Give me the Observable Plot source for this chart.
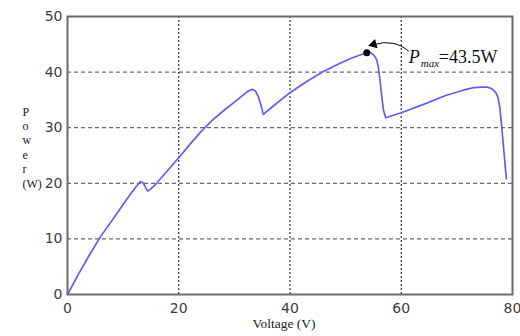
<!DOCTYPE html>
<html><head><meta charset="utf-8">
<script src="https://cdn.jsdelivr.net/npm/d3@7"></script>
<script src="https://cdn.jsdelivr.net/npm/@observablehq/plot@0.6"></script>
<style>body{margin:0;background:#fff} svg{display:block}</style>
</head><body><div id="chart"></div>
<script>
const voltage = [0, 2, 4, 6, 8, 10, 11.5, 12.5, 13.1, 13.6, 14.0, 14.4, 15, 16, 18, 20, 22, 24, 26, 28, 30, 31.5, 32.5, 33.2, 33.8, 34.3, 34.8, 35.2, 37, 40, 43, 46, 49, 51, 53, 53.8, 54.5, 55.1, 55.6, 55.9, 56.2, 56.5, 56.8, 57.2, 60, 64, 68, 71, 73, 74.5, 75.5, 76.3, 77.0, 77.4, 77.7, 78.0, 78.4, 78.9];
const power   = [0, 3.7, 7.2, 10.5, 13.3, 16.2, 18.3, 19.6, 20.3, 20.1, 19.3, 18.6, 19.0, 20.0, 22.3, 24.6, 27.0, 29.3, 31.3, 33.0, 34.6, 35.8, 36.6, 36.9, 36.6, 35.6, 34.0, 32.4, 33.9, 36.3, 38.3, 40.1, 41.6, 42.5, 43.2, 43.5, 43.5, 43.0, 42.2, 40.8, 38.4, 35.6, 33.2, 31.8, 32.7, 34.2, 35.8, 36.7, 37.2, 37.3, 37.3, 37.0, 36.3, 35.4, 33.8, 30.8, 26.4, 20.8];
const xTicks = [0, 20, 40, 60, 80];
const yTicks = [0, 10, 20, 30, 40, 50];
const xGrid = [20, 40, 60];
const yGrid = [10, 20, 30, 40];
const pmaxV = [53.8];
const pmaxP = [43.5];
const pmaxLabel = ["P", "max", "=43.5W"];
// annotation arrow (from label to the peak)
const arrowFrom = [61.3, 43.8];
const arrowTo = [55.3, 45.0];

const pts = voltage.map((v, i) => ({v, p: power[i]}));
const peak = pmaxV.map((v, i) => ({v, p: pmaxP[i]}));
const serif = "Liberation Serif, Times New Roman, serif";
const tickFont = "DejaVu Sans, sans-serif";

const chart = Plot.plot({
  width: 520, height: 336,
  marginLeft: 67, marginRight: 8, marginTop: 16, marginBottom: 42,
  x: {domain: [0, 80]},
  y: {domain: [0, 50]},
  style: {background: "#fff"},
  marks: [
    Plot.ruleY(yGrid, {stroke: "#6a6a6a", strokeDasharray: "4,3", strokeWidth: 1.2}),
    Plot.ruleX(xGrid, {stroke: "#333", strokeDasharray: "2,2", strokeWidth: 1.2}),
    Plot.line(pts, {x: "v", y: "p", stroke: "#5f5ff7", strokeWidth: 1.7}),
    Plot.frame({stroke: "#6b6b6b", strokeWidth: 2}),
    Plot.axisX(xTicks, {tickSize: 0, tickPadding: 9, fontSize: 14, fill: "#3d3d3d", fontFamily: tickFont, label: null}),
    Plot.axisY(yTicks, {tickSize: 0, tickPadding: 5, fontSize: 14, fill: "#3d3d3d", fontFamily: tickFont, label: null}),
    Plot.text(["Voltage (V)"], {frameAnchor: "bottom", dy: 33, dx: -6, fontSize: 13.5, fontFamily: serif, fill: "#222"}),
    Plot.text(["P\no\nw\ne\nr\n(W)"], {frameAnchor: "left", dx: -45, dy: -8.5, lineHeight: 1.2, fontSize: 12, fontFamily: serif, fill: "#222"}),
    Plot.arrow([{x1: arrowFrom[0], y1: arrowFrom[1], x2: arrowTo[0], y2: arrowTo[1]}],
      {x1: "x1", y1: "y1", x2: "x2", y2: "y2", bend: -30, headLength: 0, stroke: "#000", strokeWidth: 1}),
    Plot.dot([{x: arrowTo[0], y: arrowTo[1]}], {x: "x", y: "y", symbol: "triangle", r: 3.6, rotate: -105, fill: "#000", stroke: null, dx: -1.5}),
    Plot.dot(peak, {x: "v", y: "p", r: 3.5, fill: "#000"}),
    Plot.text(peak, {x: "v", y: "p", text: () => pmaxLabel[0], dx: 42, dy: 5, textAnchor: "start", fontStyle: "italic", fontSize: 18, fontFamily: serif, fill: "#111"}),
    Plot.text(peak, {x: "v", y: "p", text: () => pmaxLabel[1], dx: 54, dy: 11, textAnchor: "start", fontStyle: "italic", fontSize: 11, fontFamily: serif, fill: "#111"}),
    Plot.text(peak, {x: "v", y: "p", text: () => pmaxLabel[2], dx: 72, dy: 5, textAnchor: "start", fontSize: 18, fontFamily: serif, fill: "#111"})
  ]
});
document.getElementById("chart").appendChild(chart);
</script>
</body></html>
